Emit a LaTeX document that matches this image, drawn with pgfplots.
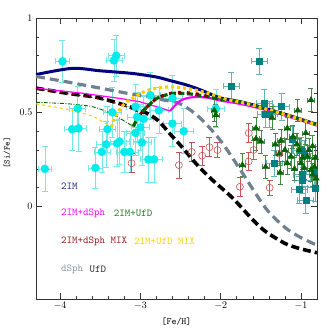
\documentclass[border=0pt]{standalone}
\usepackage{pgfplots}
\pgfplotsset{compat=1.18}
\definecolor{cyanpt}{RGB}{0,235,235}
\definecolor{cyaneb}{RGB}{120,230,230}
\definecolor{redpt}{RGB}{200,85,85}
\definecolor{grpt}{RGB}{0,100,0}
\definecolor{greb}{RGB}{70,140,70}
\definecolor{tealpt}{RGB}{0,128,128}
\definecolor{tealeb}{RGB}{100,180,180}
\definecolor{navyc}{RGB}{0,0,128}
\definecolor{slateg}{RGB}{112,128,144}
\definecolor{magc}{RGB}{255,0,255}
\definecolor{dgreen}{RGB}{0,100,0}
\definecolor{maroonc}{RGB}{130,0,0}
\definecolor{goldc}{RGB}{255,205,0}
\definecolor{leg2im}{RGB}{40,40,140}
\definecolor{leggr}{RGB}{30,120,30}
\definecolor{legred}{RGB}{150,30,30}
\definecolor{leggold}{RGB}{250,210,0}
\definecolor{legsl}{RGB}{140,150,170}
\definecolor{legblk}{RGB}{40,40,40}
\begin{document}
\begin{tikzpicture}
\path[use as bounding box] (-36pt,-36pt) rectangle (299pt,299pt);
\begin{axis}[
  scale only axis, width=281pt, height=281pt,
  xmin=-4.3, xmax=-0.8, ymin=-0.49, ymax=1,
  xtick={-4,-3,-2,-1}, minor x tick num=4,
  ytick={0,0.5,1}, minor y tick num=4,
  tick align=inside, major tick length=6pt, minor tick length=3.5pt,
  axis line style={draw=black!80, line width=0.6pt},
  tick style={black!80, line width=0.5pt},
  ticklabel style={font=\fontsize{10}{12}\selectfont},
  xlabel={[Fe/H]}, ylabel={[Si/Fe]},
  xlabel style={at={(axis description cs:0.5,-0.08)}, anchor=center, font=\ttfamily\fontsize{9.5}{11}\selectfont},
  ylabel style={at={(axis description cs:-0.103,0.52)}, anchor=center, rotate=0, font=\ttfamily\fontsize{8.5}{10}\selectfont},
  clip=true,
]
% cyan circles
\addplot[only marks, mark=*, mark size=4pt, mark options={fill=cyanpt, draw=cyanpt},
  error bars/.cd, x dir=both, x explicit, y dir=both, y explicit,
  error bar style={cyaneb, line width=0.6pt}, error mark options={cyaneb, mark size=3pt, line width=0.6pt, rotate=90}]
table[x=x, y=y, x error=ex, y error=ey] {
x y ex ey
-4.19 0.20 0.08 0.12
-3.97 0.77 0.09 0.11
-3.85 0.41 0.10 0.11
-3.77 0.415 0.10 0.12
-3.78 0.52 0.10 0.12
-3.56 0.205 0.09 0.11
-3.48 0.29 0.10 0.11
-3.425 0.33 0.12 0.12
-3.41 0.41 0.10 0.12
-3.35 0.50 0.11 0.13
-3.33 0.775 0.10 0.11
-3.30 0.80 0.10 0.11
-3.29 0.335 0.12 0.12
-3.26 0.345 0.12 0.12
-3.20 0.29 0.10 0.11
-3.13 0.29 0.11 0.11
-3.06 0.39 0.11 0.12
-3.06 0.53 0.12 0.12
-3.04 0.475 0.12 0.13
-3.00 0.42 0.11 0.12
-2.98 0.34 0.11 0.12
-2.96 0.465 0.12 0.12
-2.90 0.25 0.10 0.12
-2.83 0.25 0.10 0.12
-2.875 0.59 0.12 0.12
-2.77 0.51 0.12 0.12
-2.60 0.575 0.12 0.12
-2.60 0.44 0.11 0.12
-2.46 0.40 0.12 0.12
-2.06 0.52 0.11 0.10
};
% red open circles
\addplot[only marks, mark=o, mark size=3.5pt, mark options={draw=redpt, line width=0.6pt},
  error bars/.cd, y dir=both, y explicit,
  error bar style={redpt, line width=0.6pt}, error mark options={redpt, mark size=3pt, line width=0.6pt, rotate=90}]
table[x=x, y=y, y error=ey] {
x y ey
-3.11 0.23 0.05
-2.52 0.22 0.07
-2.36 0.29 0.05
-2.23 0.27 0.05
-2.14 0.315 0.05
-2.04 0.30 0.04
-1.76 0.105 0.05
-1.65 0.39 0.05
-1.59 0.30 0.05
-1.65 0.24 0.05
-1.39 0.10 0.04
-1.27 0.28 0.05
};
% teal squares
\addplot[only marks, mark=square*, mark size=3pt, mark options={fill=tealpt, draw=tealpt},
  error bars/.cd, x dir=both, x explicit, y dir=both, y explicit,
  error bar style={tealeb, line width=0.6pt}, error mark options={tealeb, mark size=3pt, line width=0.6pt, rotate=90}]
table[x=x, y=y, x error=ex, y error=ey] {
x y ex ey
-1.52 0.77 0.10 0.07
-1.87 0.64 0.10 0.07
-1.46 0.55 0.10 0.07
-1.44 0.49 0.10 0.07
-1.39 0.49 0.10 0.07
-1.24 0.53 0.10 0.07
-1.33 0.23 0.10 0.07
-1.00 0.30 0.10 0.07
-1.11 0.355 0.10 0.07
-0.96 0.28 0.10 0.07
-0.99 0.17 0.10 0.07
-0.98 0.14 0.10 0.07
-1.02 0.09 0.10 0.07
-0.94 0.035 0.10 0.07
-0.82 0.10 0.10 0.07
-0.83 0.19 0.10 0.07
};
% green triangles
\addplot[only marks, mark=triangle*, mark size=3.5pt, mark options={fill=grpt, draw=grpt},
  error bars/.cd, x dir=both, x explicit, y dir=both, y explicit,
  error bar style={greb, line width=0.6pt}, error mark options={greb, mark size=2.5pt, line width=0.6pt, rotate=90}]
table[x=x, y=y, x error=ex, y error=ey] {
x y ex ey
-2.08 0.51 0.04 0.06
-2.06 0.485 0.04 0.06
-1.73 0.22 0.04 0.06
-1.56 0.415 0.04 0.06
-1.56 0.36 0.04 0.06
-1.50 0.345 0.04 0.06
-1.44 0.21 0.04 0.06
-1.36 0.47 0.04 0.06
-1.27 0.28 0.04 0.06
-1.26 0.18 0.04 0.06
-1.25 0.35 0.04 0.06
-1.17 0.415 0.04 0.06
-1.17 0.23 0.04 0.06
-1.125 0.265 0.04 0.06
-1.10 0.37 0.04 0.06
-1.04 0.51 0.04 0.06
-1.02 0.30 0.04 0.06
-1.00 0.23 0.04 0.06
-0.96 0.205 0.04 0.06
-0.94 0.39 0.04 0.06
-0.92 0.265 0.04 0.06
-0.875 0.565 0.04 0.06
-0.875 0.195 0.04 0.06
-0.855 0.32 0.04 0.06
-0.855 0.17 0.04 0.06
-0.83 0.21 0.04 0.06
-0.81 0.15 0.04 0.06
-1.32 0.33 0.04 0.06
-1.05 0.33 0.04 0.06
-0.90 0.30 0.04 0.06
-0.82 0.26 0.04 0.06
-1.20 0.30 0.04 0.06
-0.98 0.26 0.04 0.06
-1.08 0.20 0.04 0.06
};
% 2IM navy
\addplot[navyc, line width=3pt, smooth] coordinates {
(-4.3,0.70) (-3.85,0.733) (-3.5,0.72) (-3.1,0.706) (-2.8,0.687) (-2.63,0.668) (-2.44,0.647) (-2.27,0.622) (-2.1,0.592) (-2.0,0.576) (-1.8,0.560) (-1.6,0.540) (-1.4,0.515) (-1.2,0.490) (-1.0,0.463) (-0.8,0.436)};
% dSph grey dashed
\addplot[slateg, line width=3.2pt, dash pattern=on 9pt off 5pt, smooth] coordinates {
(-4.3,0.69) (-3.9,0.66) (-3.5,0.628) (-3.125,0.598) (-2.875,0.583) (-2.71,0.565) (-2.52,0.548) (-2.29,0.483) (-2.02,0.36) (-1.77,0.205) (-1.44,-0.008) (-1.2,-0.11) (-1.02,-0.16) (-0.8,-0.205)};
% UfD black dashed
\addplot[black, line width=3.6pt, dash pattern=on 8pt off 4pt, smooth] coordinates {
(-4.3,0.628) (-3.9,0.60) (-3.5,0.575) (-3.0,0.51) (-2.79,0.46) (-2.63,0.385) (-2.48,0.315) (-2.29,0.22) (-2.1,0.14) (-1.85,0.045) (-1.6,-0.07) (-1.44,-0.132) (-1.2,-0.195) (-1.02,-0.222) (-0.8,-0.245)};
% 2IM+dSph magenta
\addplot[magc, line width=1.2pt] coordinates {
(-4.3,0.628) (-3.7,0.60) (-3.2,0.57) (-3.0,0.555) (-2.8,0.53) (-2.63,0.507)};
\addplot[magc, line width=2.2pt, smooth] coordinates {
(-2.63,0.507) (-2.5,0.562) (-2.35,0.58) (-2.17,0.578) (-2.0,0.562) (-1.8,0.548) (-1.6,0.530) (-1.4,0.508) (-1.2,0.483) (-1.0,0.457) (-0.8,0.430)};
% 2IM+dSph MIX maroon thin under black
\addplot[maroonc, line width=1pt, dashed] coordinates {
(-4.3,0.625) (-3.9,0.598) (-3.5,0.572) (-3.2,0.535) (-3.0,0.495)};
% 2IM+UfD green
\addplot[dgreen, line width=0.9pt, dash pattern=on 4pt off 1.5pt on 1pt off 1.5pt, smooth] coordinates {
(-4.3,0.553) (-3.9,0.545) (-3.6,0.53) (-3.4,0.50) (-3.26,0.469) (-3.09,0.425)};
\addplot[dgreen, line width=3.2pt, dash pattern=on 6pt off 2.5pt, smooth] coordinates {
(-3.09,0.425) (-3.0,0.49) (-2.9,0.535) (-2.79,0.575) (-2.6,0.600) (-2.4,0.598) (-2.2,0.586) (-2.0,0.570) (-1.8,0.558) (-1.6,0.538) (-1.4,0.513) (-1.2,0.488) (-1.0,0.461) (-0.8,0.434)};
% maroon dotted on green
\addplot[maroonc, line width=3pt, dash pattern=on 3pt off 6pt, smooth] coordinates {
(-3.0,0.49) (-2.9,0.535) (-2.79,0.575) (-2.65,0.598) (-2.5,0.606) (-2.3,0.598) (-2.1,0.58)};
% 2IM+UfD MIX gold
\addplot[goldc, line width=1pt, dashed, smooth] coordinates {
(-4.3,0.545) (-3.88,0.513) (-3.6,0.48) (-3.47,0.45) (-3.36,0.42)};
\addplot[goldc, line width=3.2pt, dash pattern=on 3pt off 3pt, smooth] coordinates {
(-3.36,0.42) (-3.32,0.472) (-3.21,0.54) (-3.09,0.577) (-2.95,0.61) (-2.8,0.628) (-2.63,0.635) (-2.45,0.628) (-2.29,0.615) (-2.1,0.594) (-1.92,0.568) (-1.8,0.558) (-1.6,0.538) (-1.4,0.513) (-1.2,0.488) (-1.0,0.461) (-0.8,0.434)};
% legend texts
\begin{scope}[every node/.style={anchor=west, inner sep=0pt, font=\ttfamily\fontsize{10.5}{12}\selectfont}]
\node[text=leg2im] at (axis cs:-3.99,0.11) {2IM};
\node[text=magc] at (axis cs:-3.99,-0.038) {2IM+dSph};
\node[text=leggr] at (axis cs:-3.334,-0.038) {2IM+UfD};
\node[text=legred] at (axis cs:-3.99,-0.186) {2IM+dSph MIX};
\node[text=leggold] at (axis cs:-3.08,-0.186) {2IM+UfD MIX};
\node[text=legsl] at (axis cs:-3.99,-0.335) {dSph};
\node[text=legblk] at (axis cs:-3.634,-0.335) {UfD};
\end{scope}
\end{axis}
\end{tikzpicture}
\end{document}
